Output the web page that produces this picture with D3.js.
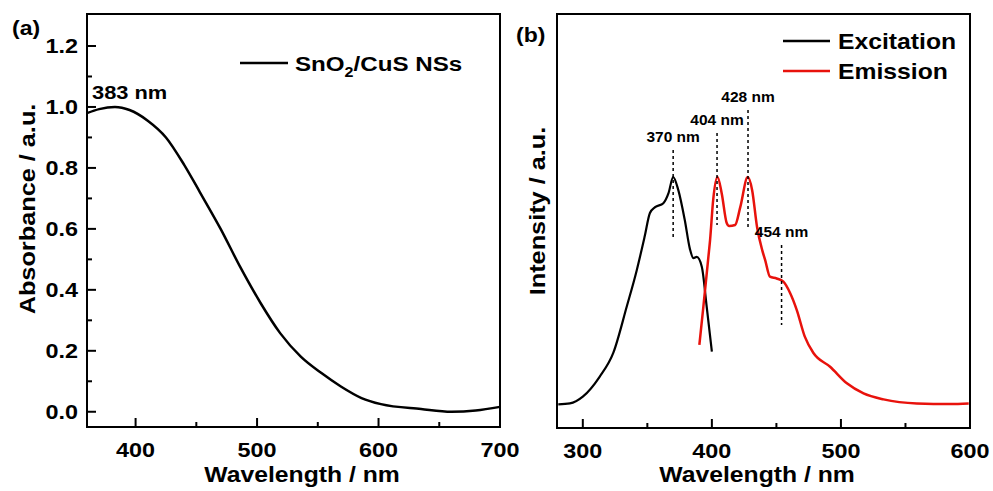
<!DOCTYPE html>
<html>
<head>
<meta charset="utf-8">
<script src="https://cdn.jsdelivr.net/npm/d3@7"></script>
<style>
  body { margin: 0; background: #fff; }
  svg text { font-family: "Liberation Sans", Arial, sans-serif; font-weight: bold; fill: #000; }
</style>
</head>
<body>
<svg id="chart" width="993" height="491"></svg>
<script>
// panel (a) absorbance
const absWave = [360, 370, 383, 395, 410, 425, 440, 453, 470, 486, 503, 519, 536, 553, 569, 586, 602, 635, 660, 680, 700]
const absVal = [0.98, 0.993, 1.0, 0.99, 0.955, 0.9, 0.81, 0.72, 0.6, 0.476, 0.356, 0.258, 0.181, 0.127, 0.083, 0.045, 0.025, 0.009, 0.0, 0.004, 0.016]
const absTicksY = [0.0, 0.2, 0.4, 0.6, 0.8, 1.0, 1.2]
const absTicksX = [400, 500, 600, 700]

// panel (b) excitation / emission
const excWave = [281, 290, 300, 313, 323.6, 334, 341.8, 348, 352, 356, 362.4, 366.4, 370, 374, 379, 383, 385.7, 388.3, 392.2, 396, 400]
const excVal = [0.094, 0.098, 0.125, 0.204, 0.299, 0.483, 0.629, 0.765, 0.857, 0.88, 0.896, 0.936, 1.0, 0.948, 0.829, 0.713, 0.677, 0.682, 0.643, 0.483, 0.304]
const emWave = [390.3, 393.4, 397.3, 398.6, 401, 404.3, 407.6, 411.5, 413.4, 418, 422, 427.8, 431.2, 435, 439, 441.3, 445, 450.2, 455.4, 460.6, 465.8, 472, 478.7, 491.6, 504.6, 517.5, 533, 558.8, 584.6, 599]
const emVal = [0.331, 0.483, 0.682, 0.749, 0.908, 1.0, 0.936, 0.817, 0.805, 0.809, 0.88, 1.0, 0.948, 0.801, 0.709, 0.669, 0.603, 0.596, 0.583, 0.538, 0.47, 0.364, 0.299, 0.244, 0.178, 0.138, 0.114, 0.098, 0.096, 0.098]
const plTicksX = [300, 400, 500, 600]
const peakNames = ['370 nm', '404 nm', '428 nm', '454 nm']
const peakWave = [370, 404, 428, 454]

const svg = d3.select('#chart')

// the figure's lettering is wider than Liberation Sans, so stretch it along the baseline
function label(g, x, y, str, size, anchor, sx, rot) {
    return g.append('text')
        .attr('transform', `translate(${x},${y})` + (rot ? ` rotate(${rot})` : '') + ` scale(${sx},1)`)
        .attr('text-anchor', anchor || 'start')
        .attr('font-size', size)
        .text(str)
}

function frame(g, x, y, w, h) {
    g.append('rect')
        .attr('x', x).attr('y', y).attr('width', w).attr('height', h)
        .attr('fill', 'none').attr('stroke', '#000').attr('stroke-width', 2)
}

function xAxis(g, xs, y0, ticks) {
    const ax = g.append('g').attr('transform', `translate(0,${y0})`)
    const step = ticks[1] - ticks[0]
    const minors = ticks.map(t => t - step / 2).filter(t => t > xs.domain()[0])
    ax.selectAll('.minor').data(minors).enter().append('line')
        .attr('x1', d => xs(d)).attr('x2', d => xs(d))
        .attr('y1', 0).attr('y2', -5)
        .attr('stroke', '#000').attr('stroke-width', 2)
    ax.selectAll('.major').data(ticks).enter().append('line')
        .attr('x1', d => xs(d)).attr('x2', d => xs(d))
        .attr('y1', 0).attr('y2', -9)
        .attr('stroke', '#000').attr('stroke-width', 2)
    ticks.forEach(t => label(ax, xs(t), 30, t, 19.5, 'middle', 1.2))
}

// ---- panel a
const ax0 = 87, ay0 = 14, aw = 413, ah = 413
const xa = d3.scaleLinear().domain([360, 700]).range([ax0, ax0 + aw])
const ya = d3.scaleLinear().domain([-0.05, 1.305]).range([ay0 + ah, ay0])
const ga = svg.append('g')

xAxis(ga, xa, ay0 + ah, absTicksX)
const minorY = d3.range(0.1, 1.3, 0.2)
ga.selectAll('.yminor').data(minorY).enter().append('line')
    .attr('x1', ax0).attr('x2', ax0 + 5)
    .attr('y1', d => ya(d)).attr('y2', d => ya(d))
    .attr('stroke', '#000').attr('stroke-width', 2)
ga.selectAll('.ymajor').data(absTicksY).enter().append('line')
    .attr('x1', ax0).attr('x2', ax0 + 9)
    .attr('y1', d => ya(d)).attr('y2', d => ya(d))
    .attr('stroke', '#000').attr('stroke-width', 2)
absTicksY.forEach(t => label(ga, ax0 - 9, ya(t) + 7, t.toFixed(1), 19.5, 'end', 1.2))

const lineA = d3.line().x(d => xa(d[0])).y(d => ya(d[1])).curve(d3.curveMonotoneX)
ga.append('path')
    .datum(absWave.map((w, i) => [w, absVal[i]]))
    .attr('d', lineA).attr('fill', 'none')
    .attr('stroke', '#000').attr('stroke-width', 2.5)

frame(ga, ax0, ay0, aw, ah)

label(ga, 92, 99, '383 nm', 19, 'start', 1.15)
label(ga, 12, 35, '(a)', 20, 'start', 1.15)
ga.append('line').attr('x1', 240).attr('x2', 288).attr('y1', 63).attr('y2', 63)
    .attr('stroke', '#000').attr('stroke-width', 2.5)
const lga = label(ga, 295, 71, '', 21, 'start', 1.15)
lga.append('tspan').text('SnO')
lga.append('tspan').attr('font-size', 14).attr('dy', 6).text('2')
lga.append('tspan').attr('dy', -6).text('/CuS NSs')
label(ga, 302, 482, 'Wavelength / nm', 21.5, 'middle', 1.15)
label(ga, 35, 209, 'Absorbance / a.u.', 22, 'middle', 1.15, -90)

// ---- panel b
const bx0 = 557, by0 = 14, bw = 413, bh = 414
const xb = d3.scaleLinear().domain([280, 600]).range([bx0, bx0 + bw])
const yb = d3.scaleLinear().domain([0, 1.65]).range([by0 + bh, by0])
const gb = svg.append('g')

xAxis(gb, xb, by0 + bh, plTicksX)

const lineB = d3.line().x(d => xb(d[0])).y(d => yb(d[1])).curve(d3.curveMonotoneX)
gb.append('path')
    .datum(excWave.map((w, i) => [w, excVal[i]]))
    .attr('d', lineB).attr('fill', 'none')
    .attr('stroke', '#000').attr('stroke-width', 2.2)
gb.append('path')
    .datum(emWave.map((w, i) => [w, emVal[i]]))
    .attr('d', lineB).attr('fill', 'none')
    .attr('stroke', '#e8120c').attr('stroke-width', 2.5)

// dashed markers, label sits above line top
const markTop = [150, 133, 110, 245]
const markLen = [88, 92, 117, 80]
peakWave.forEach((w, i) => {
    const x = xb(w)
    gb.append('line')
        .attr('x1', x).attr('x2', x)
        .attr('y1', markTop[i]).attr('y2', markTop[i] + markLen[i])
        .attr('stroke', '#000').attr('stroke-width', 1.5)
        .attr('stroke-dasharray', '3,3')
    label(gb, x, markTop[i] - 8, peakNames[i], 15.5, 'middle', 1.0)
})

frame(gb, bx0, by0, bw, bh)

label(gb, 516, 42, '(b)', 20, 'start', 1.15)
const legB = [['Excitation', '#000', 41], ['Emission', '#e8120c', 71]]
legB.forEach(l => {
    gb.append('line').attr('x1', 783).attr('x2', 830).attr('y1', l[2]).attr('y2', l[2])
        .attr('stroke', l[1]).attr('stroke-width', 2.5)
    label(gb, 838, l[2] + 8, l[0], 21.5, 'start', 1.15)
})
label(gb, xb(435), 482, 'Wavelength / nm', 21.5, 'middle', 1.15)
label(gb, 545, 211, 'Intensity / a.u.', 22, 'middle', 1.15, -90)
</script>
</body>
</html>
